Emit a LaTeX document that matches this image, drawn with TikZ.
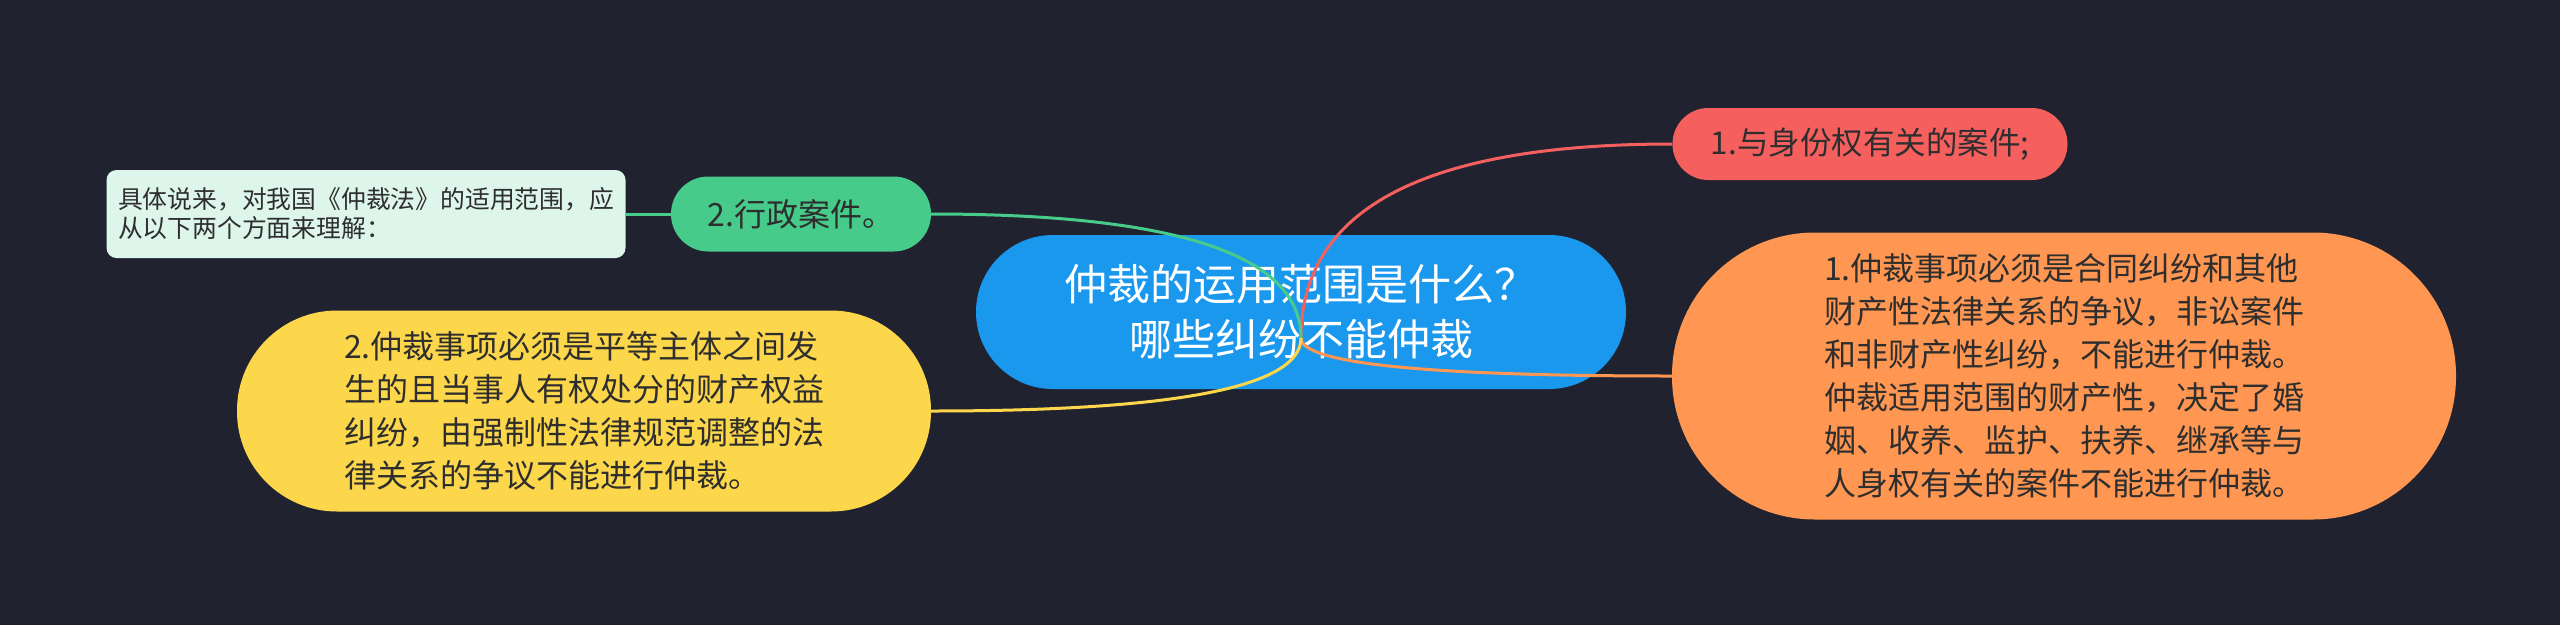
\documentclass[tikz,border=0pt]{standalone}
\usepackage{fontspec}
\setmainfont{Noto Sans CJK SC}
\usetikzlibrary{calc}
\definecolor{bgnavy}{HTML}{20232F}
\definecolor{rootblue}{HTML}{1A98EE}
\definecolor{relred}{HTML}{F5605E}
\definecolor{proporange}{HTML}{FF9752}
\definecolor{admingreen}{HTML}{47CB8A}
\definecolor{equalyellow}{HTML}{FDD74B}
\definecolor{notemint}{HTML}{DDF5EA}
\definecolor{inkdark}{HTML}{2E2E2E}
\tikzset{
  pill/.style={inner sep=0pt, text=inkdark, align=left},
  link/.style={line width=3pt},
}
\newcommand{\fs}[2]{\fontsize{#1}{#2}\selectfont}
\begin{document}
\begin{tikzpicture}[x=1pt,y=-1pt]
  \fill[bgnavy] (0,0) rectangle (2560,625);
  \useasboundingbox (0,0) rectangle (2560,625);
  % topics
  \node[pill, fill=rootblue, text=white, align=center, minimum width=650, minimum height=154, rounded corners=76.9, font=\fs{43}{55}] (root) at (1301,312) {仲裁的运用范围是什么？\\哪些纠纷不能仲裁};
  \node[pill, fill=relred, minimum width=395, minimum height=72, rounded corners=35.9, font=\fs{31.5}{40}] (rel) at (1870,144) {1.与身份权有关的案件;};
  \node[pill, fill=proporange, minimum width=784, minimum height=287, rounded corners=143, font=\fs{32}{43}] (prop) at (2064,376) {1.仲裁事项必须是合同纠纷和其他\\财产性法律关系的争议，非讼案件\\和非财产性纠纷，不能进行仲裁。\\仲裁适用范围的财产性，决定了婚\\姻、收养、监护、扶养、继承等与\\人身权有关的案件不能进行仲裁。};
  \node[pill, fill=admingreen, minimum width=260, minimum height=75, rounded corners=37.4, font=\fs{32}{40}] (admin) at (801,214) {2.行政案件。};
  \node[pill, fill=notemint, minimum width=519, minimum height=88, rounded corners=10, font=\fs{24.8}{29}] (note) at (366,214) {具体说来，对我国《仲裁法》的适用范围，应\\从以下两个方面来理解：};
  \node[pill, fill=equalyellow, minimum width=694, minimum height=201, rounded corners=100, font=\fs{32}{43}] (equal) at (584,411) {2.仲裁事项必须是平等主体之间发\\生的且当事人有权处分的财产权益\\纠纷，由强制性法律规范调整的法\\律关系的争议不能进行仲裁。};
  % branches
  \coordinate (hub) at (1301,338);
  \draw[link, relred] (hub) .. controls ($(hub)!2/3!(hub |- rel.west)$) and ($(rel.west)!2/3!(hub |- rel.west)$) .. (rel.west);
  \draw[link, proporange] (hub) .. controls ($(hub)!2/3!(hub |- prop.west)$) and ($(prop.west)!2/3!(hub |- prop.west)$) .. (prop.west);
  \draw[link, admingreen] (hub) .. controls ($(hub)!2/3!(hub |- admin.east)$) and ($(admin.east)!2/3!(hub |- admin.east)$) .. (admin.east);
  \draw[link, equalyellow] (hub) .. controls ($(hub)!2/3!(hub |- equal.east)$) and ($(equal.east)!2/3!(hub |- equal.east)$) .. (equal.east);
  \draw[link, admingreen] (note.east) -- (admin.west);
\end{tikzpicture}
\end{document}
